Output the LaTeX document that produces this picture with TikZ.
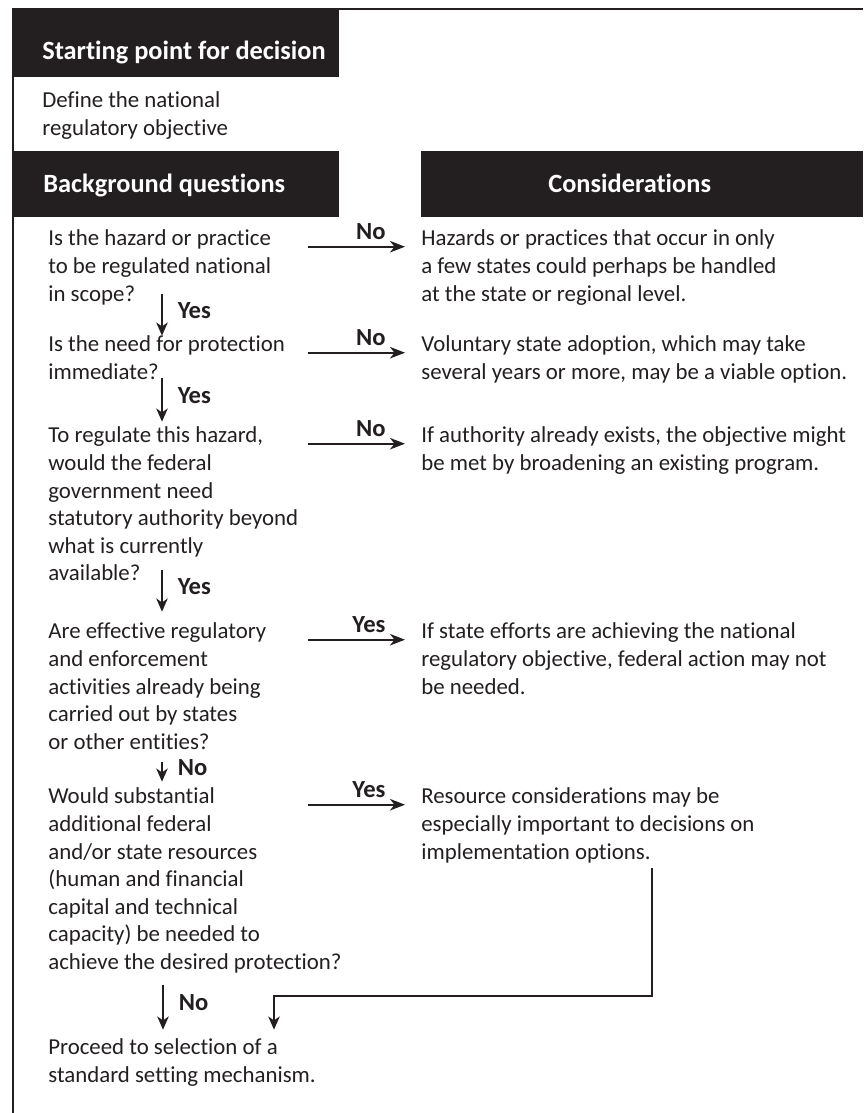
\documentclass[tikz,border=0pt]{standalone}
\usepackage{fontspec}
\setmainfont{Carlito}[Ligatures=NoCommon,RawFeature={-liga;-clig;-calt;-dlig}]
\usepackage{tikz}
\usetikzlibrary{arrows.meta,calc}
\definecolor{ink}{HTML}{231F20}

\begin{document}
\begin{tikzpicture}[x=0.02cm,y=-0.02cm,
  body/.style={anchor=north west,inner sep=0pt,align=left,text=ink,
    font=\fontsize{13}{15.7}\selectfont,execute at begin node=\strut},
  hbox/.style={anchor=north west,fill=ink,inner sep=0pt},
  htext/.style={anchor=base west,inner sep=0pt,text=white,
    font=\fontsize{15}{18}\selectfont\bfseries},
  harr/.style={draw=ink,line width=1.25pt,-{Stealth[length=8.5pt,width=6.5pt,inset=2.5pt]}},
  varr/.style={draw=ink,line width=1pt,-{Stealth[length=7.5pt,width=6.5pt,inset=2.2pt]}},
  hlbl/.style={pos=0.81,anchor=base east,yshift=4pt,inner sep=0pt,text=ink,
    font=\fontsize{14}{16}\selectfont\bfseries},
  vlbl/.style={midway,anchor=base west,xshift=8.5pt,yshift=-2pt,inner sep=0pt,
    text=ink,font=\fontsize{14}{16}\selectfont\bfseries}]

\useasboundingbox (0,0) rectangle (863,1113);
\draw[ink,line width=1.6pt] (13,1113) -- (13,9) -- (863,9);

\node[hbox,minimum width=6.52cm,minimum height=1.34cm] (startbox) at (13,10) {};
\node[hbox,minimum width=6.52cm,minimum height=1.32cm] (bgqbox) at (13,151) {};
\node[hbox,minimum width=8.84cm,minimum height=1.32cm] (consbox) at (421,151) {};
\node[htext] (start) at (42,59) {Starting point for decision};
\node[htext] (bgq) at (43,192) {Background questions};
\node[htext] (cons) at (548,192) {Considerations};

\node[body] (goal) at (42,91.7) {Define the national\\regulatory objective};

\node[body] (q1) at (48,229.7) {Is the hazard or practice\\to be regulated national\\in scope?};
\node[body] (c1) at (421,229.7) {Hazards or practices that occur in only\\a few states could perhaps be handled\\at the state or regional level.};
\node[body] (q2) at (48,335.7) {Is the need for protection\\immediate?};
\node[body] (c2) at (421,335.7) {Voluntary state adoption, which may take\\several years or more, may be a viable option.};
\node[body] (q3) at (48,426.7) {To regulate this hazard,\\would the federal\\government need\\statutory authority beyond\\what is currently\\available?};
\node[body] (c3) at (421,426.7) {If authority already exists, the objective might\\be met by broadening an existing program.};
\node[body] (q4) at (48,622.7) {Are effective regulatory\\and enforcement\\activities already being\\carried out by states\\or other entities?};
\node[body] (c4) at (421,622.7) {If state efforts are achieving the national\\regulatory objective, federal action may not\\be needed.};
\node[body] (q5) at (48,787.7) {Would substantial\\additional federal\\and/or state resources\\(human and financial\\capital and technical\\capacity) be needed to\\achieve the desired protection?};
\node[body] (c5) at (421,787.7) {Resource considerations may be\\especially important to decisions on\\implementation options.};
\node[body] (fin) at (48,1038.7) {Proceed to selection of a\\standard setting mechanism.};

\draw[harr] ($(q1.north west)+(260,17)$) -- ($(c1.north west)+(-16,17)$) node[hlbl] {No};
\draw[harr] ($(q2.north west)+(260,17)$) -- ($(c2.north west)+(-16,17)$) node[hlbl] {No};
\draw[harr] ($(q3.north west)+(260,17)$) -- ($(c3.north west)+(-16,17)$) node[hlbl] {No};
\draw[harr] ($(q4.north west)+(260,17)$) -- ($(c4.north west)+(-16,17)$) node[hlbl] {Yes};
\draw[harr] ($(q5.north west)+(260,17)$) -- ($(c5.north west)+(-16,17)$) node[hlbl] {Yes};

\draw[varr] ($(q1.north west)+(114,64)$) -- ($(q2.north west)+(114,0)$) node[vlbl] {Yes};
\draw[varr] ($(q2.north west)+(114,42)$) -- ($(q3.north west)+(114,-5)$) node[vlbl] {Yes};
\draw[varr] ($(q3.north west)+(114,143)$) -- ($(q4.north west)+(114,-11)$) node[vlbl] {Yes};
\draw[varr] ($(q4.north west)+(114,139)$) -- ($(q5.north west)+(114,-6)$) node[vlbl] {No};
\draw[varr] ($(q5.north west)+(115,197)$) -- ($(fin.north west)+(115,-9)$) node[vlbl] {No};
\draw[varr,line width=1.2pt] ($(c5.north west)+(231,80)$) |- ($(fin.north west)+(226,-43)$) -- ($(fin.north west)+(226,-9)$);
\end{tikzpicture}
\end{document}
